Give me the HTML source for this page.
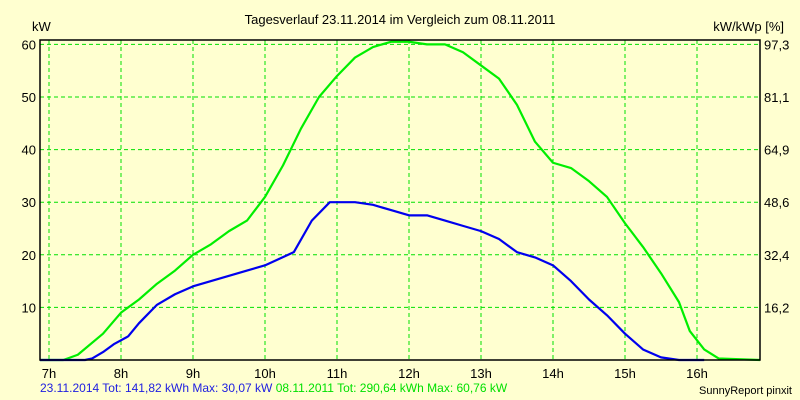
<!DOCTYPE html>
<html><head><meta charset="utf-8"><style>
body{margin:0;background:#ffffd0;}
svg{display:block;font-family:"Liberation Sans",sans-serif;}
</style></head><body>
<svg id="c" width="800" height="400">
<rect width="800" height="400" fill="#ffffd0"/>
<text x="400" y="24" font-size="13" text-anchor="middle">Tagesverlauf 23.11.2014 im Vergleich zum 08.11.2011</text>
<text x="32" y="31" font-size="13">kW</text>
<text x="784" y="31" font-size="13" text-anchor="end">kW/kWp [%]</text>
<g id="grid"></g><g id="series"></g>
<rect x="40" y="40" width="720" height="320" fill="none" stroke="#000" stroke-width="1.5"/>
<g id="labels"></g>
<text x="40" y="392" font-size="12"><tspan fill="#2020e0">23.11.2014 Tot: 141,82 kWh Max: 30,07 kW </tspan><tspan fill="#00e000">08.11.2011 Tot: 290,64 kWh Max: 60,76 kW</tspan></text>
<text x="792" y="394" font-size="11" text-anchor="end">SunnyReport pinxit</text>
</svg>
<script>
const yTicks=[10,20,30,40,50,60];
const rightTicks=["16,2","32,4","48,6","64,9","81,1","97,3"];
const hours=[7,8,9,10,11,12,13,14,15,16];
const blueT=[6.875,7.5,7.6,7.75,7.9,8.1,8.25,8.5,8.75,9,9.25,9.5,9.75,10,10.4,10.65,10.9,11.25,11.5,11.75,12,12.25,12.5,12.75,13,13.25,13.5,13.75,14,14.25,14.5,14.75,15,15.25,15.5,15.75,16.1];
const blueV=[0,0,0.3,1.5,3,4.5,7,10.5,12.5,14,15,16,17,18,20.5,26.5,30,30,29.5,28.5,27.5,27.5,26.5,25.5,24.5,23,20.5,19.5,18,15,11.5,8.5,5,2,0.5,0,0];
const greenT=[6.875,7.2,7.4,7.75,8,8.25,8.5,8.75,9,9.25,9.5,9.75,10,10.25,10.5,10.75,11,11.25,11.5,11.75,12,12.25,12.5,12.75,13,13.25,13.5,13.75,14,14.25,14.5,14.75,15,15.25,15.5,15.75,15.9,16.1,16.3,16.875];
const greenV=[0,0,1,5,9,11.5,14.5,17,20,22,24.5,26.5,31,37,44,50,54,57.5,59.5,60.5,60.5,60,60,58.5,56,53.5,48.5,41.5,37.5,36.5,34,31,26,21.5,16.5,11,5.5,2,0.3,0];
const X=h=>40+(h-6.875)*72;
const Y=v=>360-v*5.26;
const NS="http://www.w3.org/2000/svg";
const grid=document.getElementById('grid'),lab=document.getElementById('labels'),ser=document.getElementById('series');
function mk(p,tag,at){const e=document.createElementNS(NS,tag);for(const k in at)e.setAttribute(k,at[k]);p.appendChild(e);return e;}
yTicks.forEach((v,i)=>{
 const l=mk(grid,'line',{x1:40,x2:760,y1:Y(v),y2:Y(v),stroke:'#00e000','stroke-dasharray':'4,3'});
 
 
 const t=mk(lab,'text',{x:36,y:Y(v)+5,'font-size':13,'text-anchor':'end'});t.textContent=v;
 
 
 const r=mk(lab,'text',{x:764,y:Y(v)+5,'font-size':13});r.textContent=rightTicks[i];
 
 
});
hours.forEach(h=>{
 const l=mk(grid,'line',{x1:X(h),x2:X(h),y1:40,y2:360,stroke:'#00e000','stroke-dasharray':'4,3'});
 
 
 const t=mk(lab,'text',{x:X(h),y:378,'font-size':13,'text-anchor':'middle'});t.textContent=h+'h';
 
 
});
function line(T,V,col,name){
 const p=mk(ser,'polyline',{points:T.map((t,i)=>X(t)+','+Y(V[i])).join(' '),fill:'none',stroke:col,'stroke-width':2.2,'stroke-linejoin':'round'});
 
 
}
line(greenT,greenV,'#00ee00','series-08-11-2011');
line(blueT,blueV,'#0000ee','series-23-11-2014');
</script>
</body></html>
